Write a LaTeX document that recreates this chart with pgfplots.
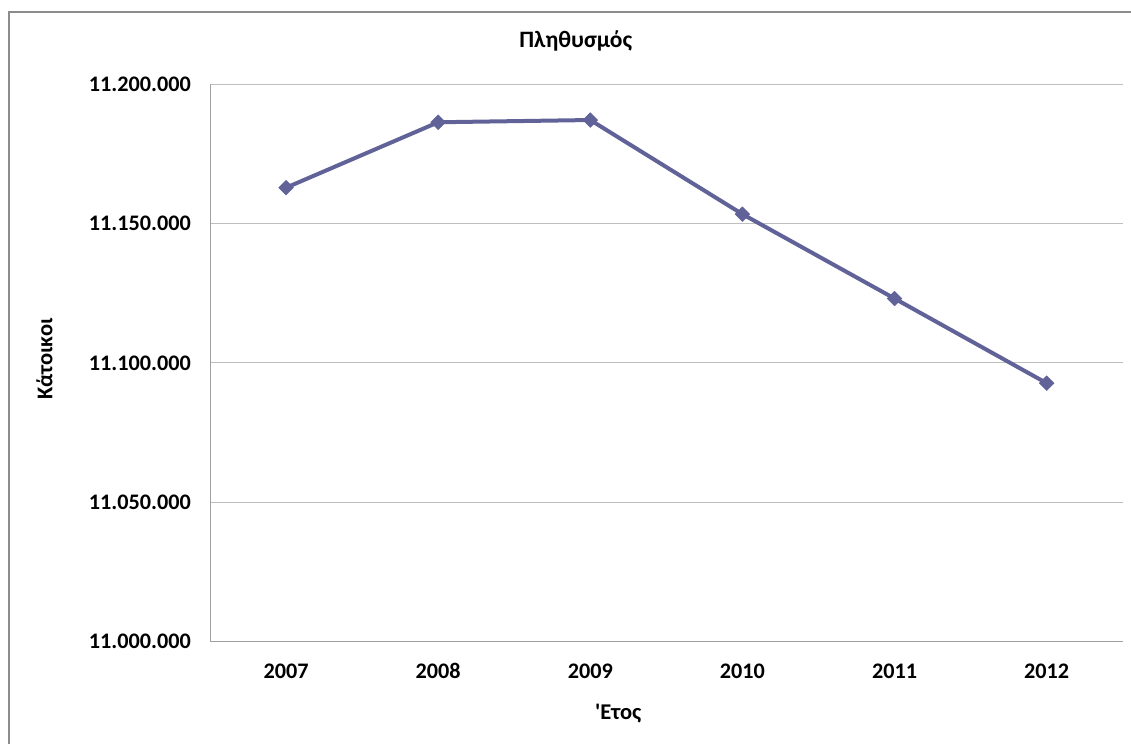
\documentclass[border=0pt]{standalone}
\usepackage{pgfplots}
\pgfplotsset{compat=1.18}
\usepackage{fontspec}
\setmainfont{Carlito}[Ligatures=TeXOff]
\definecolor{serie}{RGB}{96,98,152}
\definecolor{gridc}{RGB}{190,190,190}
\definecolor{axisc}{RGB}{160,160,160}
\definecolor{framec}{RGB}{140,140,140}
\begin{document}
\begin{tikzpicture}[x=1bp,y=1bp]
\useasboundingbox (0,0) rectangle (1131,744);
% chart frame (right and bottom edges fall outside the picture)
\draw[framec, line width=1.2bp] (9,-10) -- (9,732) -- (1145,732) -- (1145,-10);
\begin{axis}[
    at={(210bp,102.7bp)}, anchor=south west,
    scale only axis,
    width=912.7bp, height=556.9bp,
    xmin=0.5, xmax=6.5,
    ymin=11000000, ymax=11200000,
    xtick={1,2,3,4,5,6},
    xticklabels={2007,2008,2009,2010,2011,2012},
    ytick={11000000,11050000,11100000,11150000,11200000},
    yticklabels={11.000.000,11.050.000,11.100.000,11.150.000,11.200.000},
    scaled y ticks=false,
    axis x line*=bottom, axis y line*=left,
    axis line style={axisc, line width=1bp},
    x axis line style={-}, y axis line style={-},
    major tick length=0pt,
    ymajorgrids, grid style={gridc, line width=1bp},
    tick label style={font=\fontsize{22.2bp}{26bp}\selectfont\bfseries, inner sep=0pt},
    yticklabel style={anchor=east},
    xticklabel style={anchor=north},
    yticklabel shift=19bp,
    xticklabel shift=22bp,
    clip=false,
]
\addplot[serie, line width=4bp, mark=square*, mark size=5.2bp,
    mark options={rotate=45, solid, fill=serie, draw=serie, line width=0.5bp}]
    coordinates {
    (1,11162900)
    (2,11186400)
    (3,11187200)
    (4,11153400)
    (5,11123100)
    (6,11092700)
    };
\end{axis}
\node[anchor=base, inner sep=0pt, font=\fontsize{23.5bp}{28bp}\selectfont\bfseries] at (575.8,696.7) {Πληθυσμός};
\node[anchor=base, inner sep=0pt, font=\fontsize{22.5bp}{27bp}\selectfont\bfseries] at (618.3,24) {'Ετος};
\node[anchor=base, rotate=90, inner sep=0pt, font=\fontsize{22.5bp}{27bp}\selectfont\bfseries] at (52.3,384.8) {Κάτοικοι};
\end{tikzpicture}
\end{document}
